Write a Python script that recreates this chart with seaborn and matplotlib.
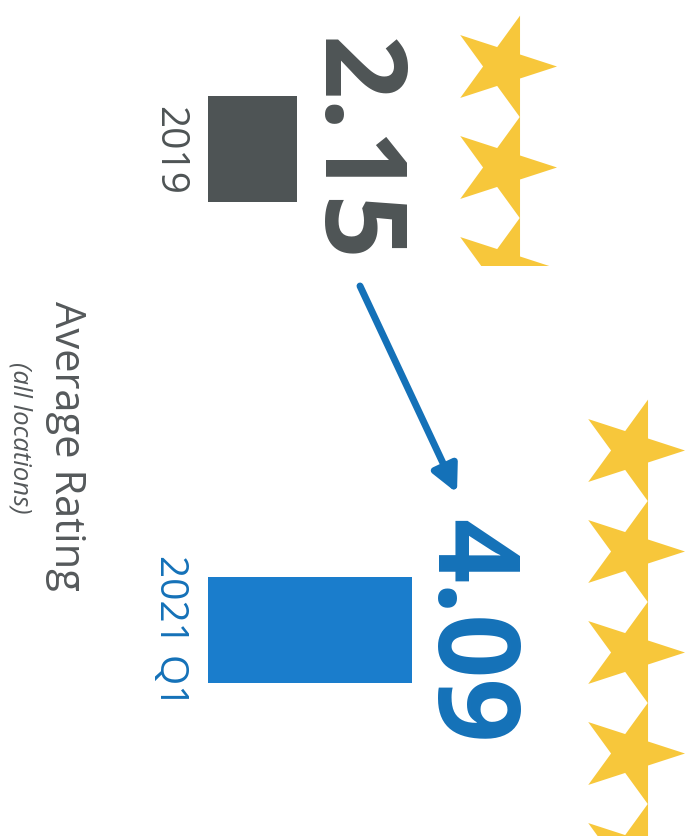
import numpy as np
import pandas as pd
import seaborn as sns
import matplotlib
matplotlib.use("Agg")
from matplotlib import pyplot as plt
from matplotlib.markers import MarkerStyle
from matplotlib.transforms import Affine2D
from matplotlib.patches import Rectangle

# data
periods = ["2019", "2021 Q1"]
ratings = [2.15, 4.09]
stars_shown = [2.45, 5.0]      # how much of the star row is visible
base = 0.65                    # bars start here (truncated axis)

gray = "#4e5455"
blue_bar = "#1a7dcc"
blue_txt = "#1471b8"
gold = "#f7c73b"

W, H = 697, 837
fig = plt.figure(figsize=(W / 100, H / 100), dpi=100)
fig.patch.set_facecolor("white")

# main axis: rotated bar chart, bars grow to the right
ax = fig.add_axes([208 / W, 0, 1 - 208 / W, 1])
df = pd.DataFrame({"period": periods, "rating": ratings})
df["len"] = df["rating"] - base
sns.barplot(data=df, x="len", y="period", hue="period", palette=[gray, blue_bar],
            orient="h", width=0.22, legend=False, ax=ax, saturation=1)
k = 59.3  # px per rating unit
ax.set_xlim(0, (W - 208) / k)
ax.set_ylim((H - 150) / 481, -150 / 481)
ax.set_xlabel("")
ax.set_ylabel("")
ax.set_xticks([])
for s in ax.spines.values():
    s.set_visible(False)
ax.tick_params(axis="y", length=0, pad=14)
ax.set_yticks(range(len(periods)))
ax.set_yticklabels(periods, rotation=-90, va="center", ha="right",
                   fontsize=28, family="Open Sans")
for lab, c in zip(ax.get_yticklabels(), [gray, blue_txt]):
    lab.set_color(c)

# big value labels
for i, (r, c) in enumerate(zip(ratings, [gray, blue_txt])):
    ax.text(r - base + 0.9, i, f"{r:.2f}", rotation=-90, ha="center", va="center",
            fontsize=81, fontweight="bold", family="Open Sans", color=c)

# overlay in pixel units for stars and arrow
ov = fig.add_axes([0, 0, 1, 1])
ov.set_xlim(0, W)
ov.set_ylim(H, 0)
ov.axis("off")
ov.patch.set_alpha(0)

star = MarkerStyle("*", transform=Affine2D().rotate_deg(-90))
star_x = [503, 631]
star_y0 = [67, 451]
pitch = 101
R = 53.5
for sx, sy0, shown in zip(star_x, star_y0, stars_shown):
    n = int(np.ceil(shown))
    ys = [sy0 + j * pitch for j in range(n)]
    sc = ov.scatter([sx] * n, ys, marker=star, s=(2 * R * 0.72) ** 2,
                    color=gold, linewidths=0, zorder=3)
    cut = sy0 - R * 0.9 + shown * pitch
    clip = Rectangle((0, 0), W, cut, transform=ov.transData)
    sc.set_clip_path(clip)

ov.annotate("", xy=(457, 494), xytext=(360, 287),
            arrowprops=dict(arrowstyle="-|>", color=blue_txt, lw=5,
                            mutation_scale=40, shrinkA=0, shrinkB=0))

fig.text(66 / W, 1 - 446 / H, "Average Rating", rotation=-90, ha="center", va="center",
         fontsize=30, family="Open Sans", color="#55595b")
fig.text(20 / W, 1 - 438 / H, "(all locations)", rotation=-90, ha="center", va="center",
         fontsize=18.5, family="Open Sans", style="italic", color="#55595b")

plt.savefig("out.png", dpi=100)
